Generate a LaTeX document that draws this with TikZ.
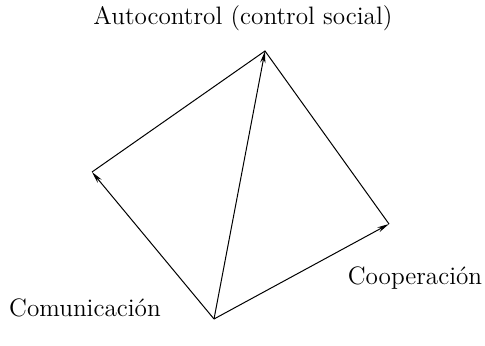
\documentclass[tikz,border=0pt]{standalone}
\usetikzlibrary{arrows.meta}
\begin{document}
\begin{tikzpicture}[x=0.5pt,y=-0.5pt,
  edge/.style={line width=0.5pt},
  arr/.style={edge,-{Stealth[length=6pt,width=2.6pt]}},
  lbl/.style={font=\fontsize{12.6}{15}\selectfont,inner sep=0pt}]
\useasboundingbox (0,0) rectangle (485,346);
\coordinate (B) at (214,319);
\coordinate (L) at (92,172);
\coordinate (T) at (265,51);
\coordinate (R) at (389,224);
\draw[edge] (L) -- (T) -- (R);
\draw[arr] (B) -- (L);
\draw[arr] (B) -- (T);
\draw[arr] (B) -- (R);
\node[lbl] (tl) at (243,18) {Autocontrol (control social)};
\node[lbl] (cl) at (85,308) {Comunicación};
\node[lbl] (rl) at (415,278) {Cooperación};
\end{tikzpicture}
\end{document}
